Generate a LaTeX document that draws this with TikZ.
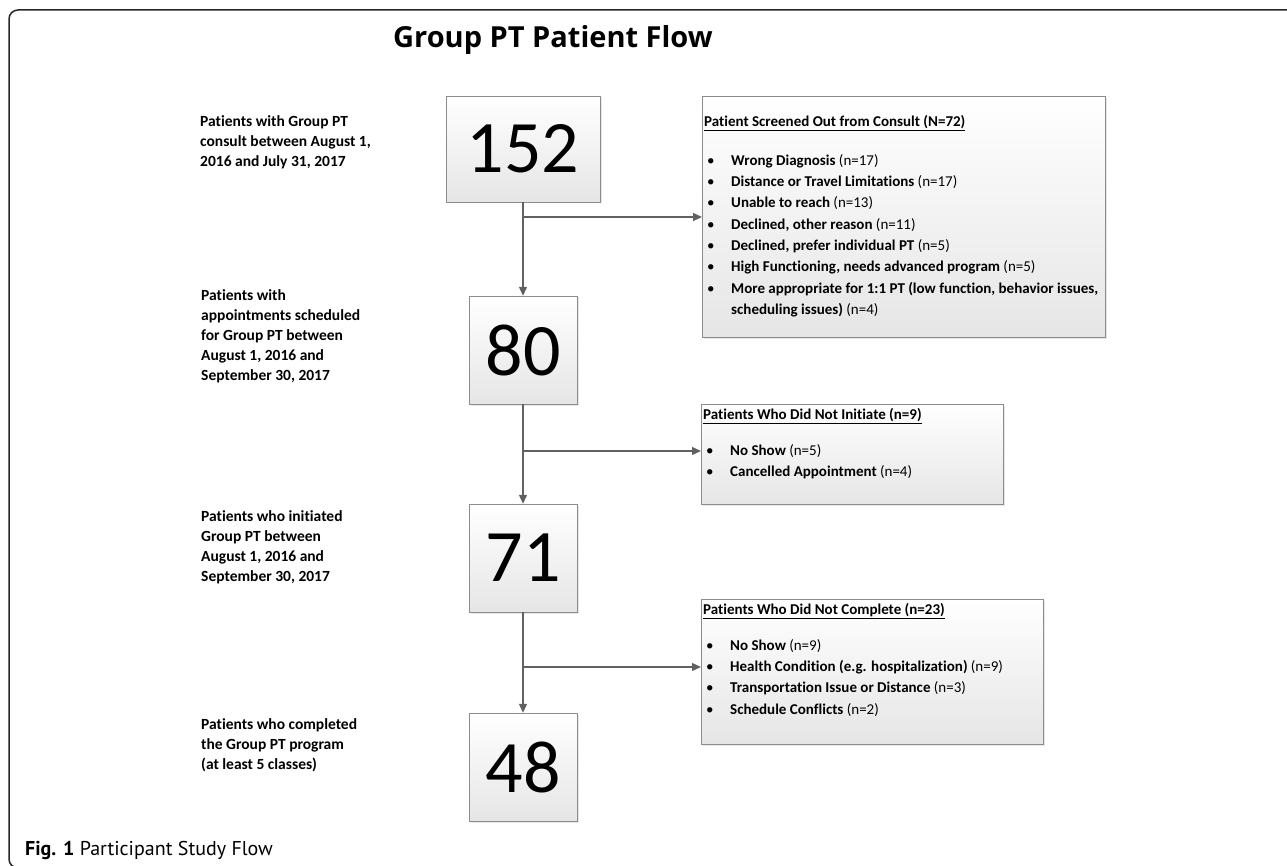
\documentclass[tikz,border=0pt]{standalone}
\usepackage{fontspec}
\setmainfont{Carlito}[Ligatures=NoCommon]
\newfontfamily\captionFont{PT Sans}
\newfontfamily\titleFont{Open Sans}
\usetikzlibrary{positioning}
\usetikzlibrary{arrows.meta}
\usetikzlibrary{shadows}
\definecolor{edgeColor}{rgb}{0.38,0.38,0.38}
\definecolor{boxBorder}{rgb}{0.55,0.55,0.55}
\definecolor{boxBottom}{rgb}{0.90,0.90,0.90}
\definecolor{frameColor}{rgb}{0.15,0.15,0.15}

\newcommand{\reasonItem}[2]{\makebox[27pt][l]{\hspace{3pt}\textbullet}\textbf{#1} #2}
\newcommand{\reasonMore}[2]{\makebox[27pt][l]{}\textbf{#1} #2}

\begin{document}
\begin{tikzpicture}[x=1pt,y=-1pt]

          \useasboundingbox (0,0) rectangle (1287,866);

          \tikzstyle{countBox} = [draw=boxBorder, top color=white, bottom color=boxBottom, drop shadow={opacity=0.2, shadow xshift=1.5pt, shadow yshift=-1.5pt}, minimum width=108, minimum height=108, inner sep=0pt, font=\fontsize{74}{74}\selectfont];
          \tikzstyle{bigCountBox} = [countBox, minimum width=154, minimum height=106];
          \tikzstyle{reasonBox} = [draw=boxBorder, top color=white, bottom color=boxBottom, drop shadow={opacity=0.2, shadow xshift=1.5pt, shadow yshift=-1.5pt}, anchor=north west, inner sep=0pt];
          \tikzstyle{reasonText} = [anchor=north west, inner sep=0pt, align=left, font=\fontsize{15}{21.3}\selectfont];
          \tikzstyle{sideText} = [anchor=north west, inner sep=0pt, align=left, font=\bfseries\fontsize{15.5}{20}\selectfont];
          \tikzstyle{flowEdge} = [draw=edgeColor, line width=1.3pt, -{Triangle[length=9pt,width=8pt]}];

          % frame and title
          \draw[line width=1.5pt, rounded corners=9pt, frameColor] (1300,10) -- (9,10) -- (9,868) -- (1300,868);
          \node[anchor=base west, inner sep=0pt, font=\titleFont\bfseries\fontsize{29}{32}\selectfont] (title) at (393,48) {Group PT Patient Flow};

          % counts
          \node[bigCountBox] (c152) at (523,149) {152};
          \node[countBox] (c80) at (523,350) {80};
          \node[countBox] (c71) at (523,558) {71};
          \node[countBox] (c48) at (523,767) {48};

          \node[sideText] (s152) at (200,115) {Patients with Group PT\\consult between August 1,\\2016 and July 31, 2017};
          \node[sideText] (s80) at (201,289) {Patients with\\appointments scheduled\\for Group PT between\\August 1, 2016 and\\September 30, 2017};
          \node[sideText] (s71) at (201,510) {Patients who initiated\\Group PT between\\August 1, 2016 and\\September 30, 2017};
          \node[sideText] (s48) at (201,718) {Patients who completed\\the Group PT program\\(at least 5 classes)};

          % reasons
          \node[reasonBox, minimum width=403, minimum height=241] (scr) at (702,96) {};
          \node[reasonText] (scrText) at (704,115) {\underline{\textbf{Patient Screened Out from Consult (N=72)}}\\[17.7pt]
            \reasonItem{Wrong Diagnosis}{(n=17)}\\
            \reasonItem{Distance or Travel Limitations}{(n=17)}\\
            \reasonItem{Unable to reach}{(n=13)}\\
            \reasonItem{Declined, other reason}{(n=11)}\\
            \reasonItem{Declined, prefer individual PT}{(n=5)}\\
            \reasonItem{High Functioning, needs advanced program}{(n=5)}\\
            \reasonItem{More appropriate for 1:1 PT (low function, behavior issues,}{}\\
            \reasonMore{scheduling issues)}{(n=4)}};

          \node[reasonBox, minimum width=302, minimum height=100] (ini) at (701,404) {};
          \node[reasonText] (iniText) at (703,408) {\underline{\textbf{Patients Who Did Not Initiate (n=9)}}\\[14.7pt]
            \reasonItem{No Show}{(n=5)}\\
            \reasonItem{Cancelled Appointment}{(n=4)}};

          \node[reasonBox, minimum width=342, minimum height=145] (cmp) at (701,599) {};
          \node[reasonText] (cmpText) at (703,603) {\underline{\textbf{Patients Who Did Not Complete (n=23)}}\\[14.7pt]
            \reasonItem{No Show}{(n=9)}\\
            \reasonItem{Health Condition (e.g. hospitalization)}{(n=9)}\\
            \reasonItem{Transportation Issue or Distance}{(n=3)}\\
            \reasonItem{Schedule Conflicts}{(n=2)}};

          % edges
          \coordinate (b1) at (523,217);
          \coordinate (b2) at (523,451);
          \coordinate (b3) at (523,667);

          \draw[flowEdge] (c152) -- (c80);
          \draw[flowEdge] (c80) -- (c71);
          \draw[flowEdge] (c71) -- (c48);
          \draw[flowEdge] (b1) -- (b1 -| scr.west);
          \draw[flowEdge] (b2) -- (b2 -| ini.west);
          \draw[flowEdge] (b3) -- (b3 -| cmp.west);

          \node[anchor=base west, inner sep=0pt, font=\captionFont\fontsize{20}{22}\selectfont] (caption) at (25,855) {\textbf{Fig. 1} Participant Study Flow};
\end{tikzpicture}
\end{document}
